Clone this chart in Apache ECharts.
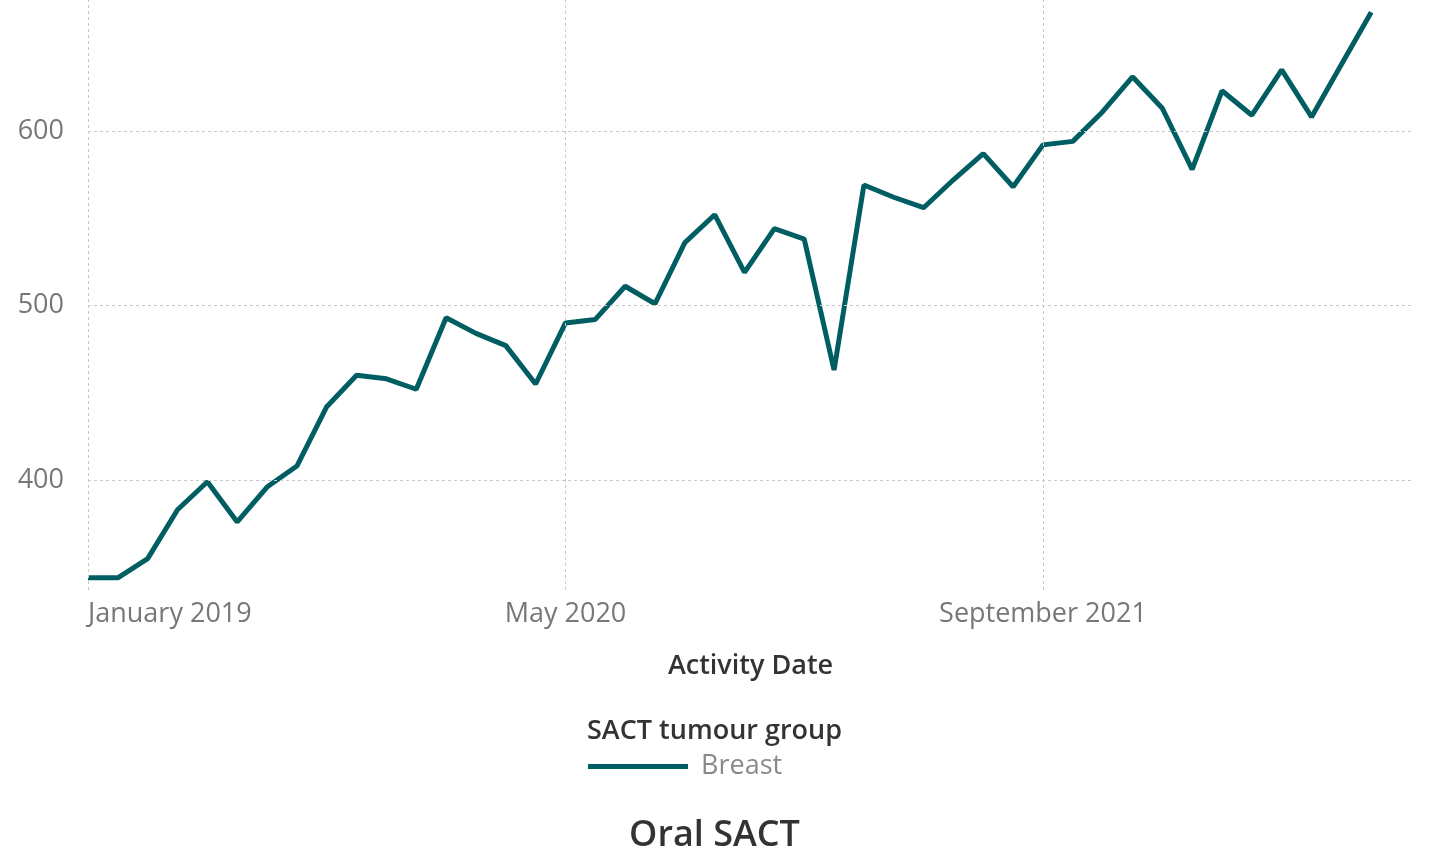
<!doctype html>
<html lang="en">
<head>
    <meta charset="UTF-8">
    <title>Oral SACT</title>
    <style>
        html, body { margin: 0; padding: 0; background: #fff; }
        #main { width: 1429px; height: 852px; }
    </style>
</head>
<body>
<div id="main"></div>
<script src="https://cdn.jsdelivr.net/npm/echarts@6/dist/echarts.min.js"></script>
<script type="text/javascript">
    // months, January 2019 .. August 2022
    var months = [
        'January 2019', 'February 2019', 'March 2019', 'April 2019', 'May 2019', 'June 2019',
        'July 2019', 'August 2019', 'September 2019', 'October 2019', 'November 2019', 'December 2019',
        'January 2020', 'February 2020', 'March 2020', 'April 2020', 'May 2020', 'June 2020',
        'July 2020', 'August 2020', 'September 2020', 'October 2020', 'November 2020', 'December 2020',
        'January 2021', 'February 2021', 'March 2021', 'April 2021', 'May 2021', 'June 2021',
        'July 2021', 'August 2021', 'September 2021', 'October 2021', 'November 2021', 'December 2021',
        'January 2022', 'February 2022', 'March 2022', 'April 2022', 'May 2022', 'June 2022',
        'July 2022', 'August 2022'
    ];
    var breast = [
        344, 344, 355, 383, 399, 376, 396, 408, 442, 460, 458, 452,
        493, 484, 477, 455, 490, 492, 511, 501, 536, 552, 519, 544,
        538, 463, 569, 562, 556, 572, 587, 568, 592, 594, 611, 631,
        613, 578, 623, 609, 635, 608, 638, 668
    ];
    var xTicks = [0, 16, 32];   // January 2019, May 2020, September 2021
    var yGrid = [400, 500, 600];

    var points = [];
    for (var i = 0; i < breast.length; i++) {
        points.push([i, breast[i]]);
    }

    var gridLines = [];
    for (var j = 0; j < yGrid.length; j++) gridLines.push({ yAxis: yGrid[j] });
    for (var k = 0; k < xTicks.length; k++) gridLines.push({ xAxis: xTicks[k] });

    var chart = echarts.init(document.getElementById('main'));
    var option = {
        animation: false,
        color: ['#005E63'],
        textStyle: { fontFamily: 'Open Sans' },
        title: [
            {
                text: 'SACT tumour group',
                left: 'center',
                top: 713,
                textStyle: { fontSize: 27, fontWeight: 600, color: '#333' }
            },
            {
                text: 'Oral SACT',
                left: 'center',
                top: 813,
                textStyle: { fontSize: 36, fontWeight: 600, color: '#333' }
            }
        ],
        legend: {
            left: 588,
            top: 753,
            padding: 0,
            icon: 'rect',
            itemWidth: 100,
            itemHeight: 5,
            textStyle: { fontSize: 27, color: '#8a8a8a', padding: [0, 0, 0, 8] },
            data: ['Breast']
        },
        grid: {
            left: 88,
            right: 16,
            top: 0,
            bottom: 262
        },
        xAxis: {
            type: 'value',
            min: 0,
            max: 44.4,
            interval: 16,
            name: 'Activity Date',
            nameLocation: 'middle',
            nameGap: 63,
            nameTextStyle: { fontSize: 27, fontWeight: 600, color: '#333' },
            axisLine: { show: false },
            axisTick: { show: false },
            axisLabel: {
                fontSize: 27,
                color: '#777',
                margin: 11,
                alignMinLabel: 'left',
                formatter: function (v) {
                    return xTicks.indexOf(v) >= 0 ? months[v] : '';
                }
            },
            splitLine: { show: false }
        },
        yAxis: {
            type: 'value',
            min: 337,
            max: 675,
            splitNumber: 3,
            axisLine: { show: false },
            axisTick: { show: false },
            axisLabel: {
                fontSize: 27,
                color: '#777',
                margin: 24,
                formatter: function (v) {
                    return yGrid.indexOf(v) >= 0 ? v : '';
                }
            },
            splitLine: { show: false }
        },
        series: [
            {
                name: 'Breast',
                type: 'line',
                data: points,
                symbol: 'none',
                lineStyle: { width: 5 },
                markLine: {
                    silent: true,
                    symbol: 'none',
                    label: { show: false },
                    lineStyle: { color: '#c8c8c8', type: [3, 3], width: 1 },
                    data: gridLines
                },
                z: 3
            }
        ]
    };
    chart.setOption(option);
</script>
</body>
</html>
